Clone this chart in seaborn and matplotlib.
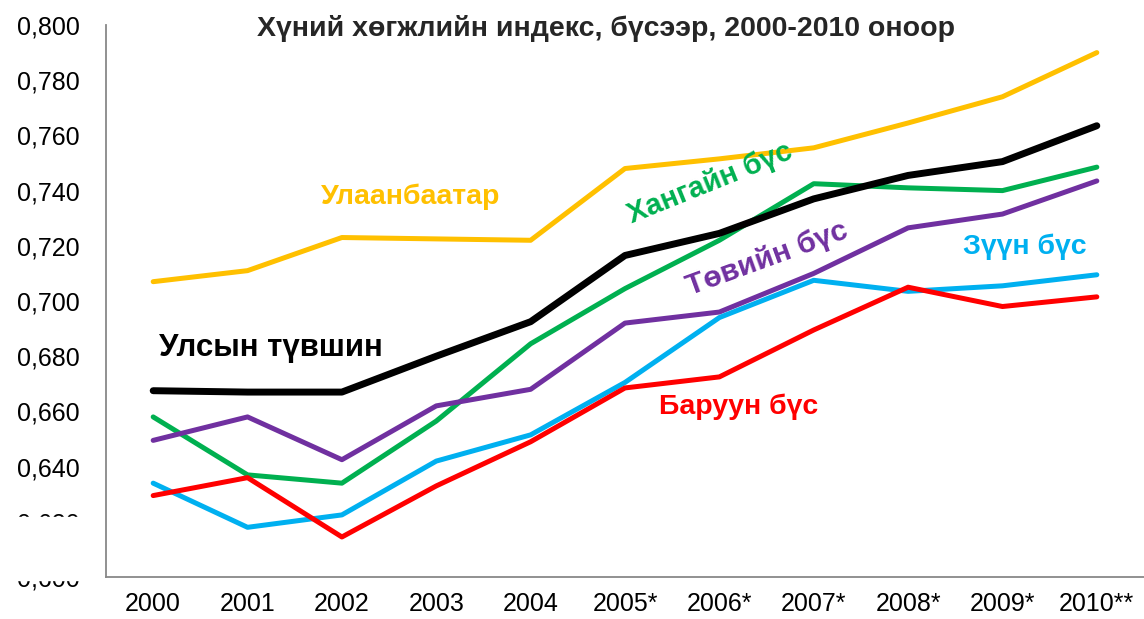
import matplotlib
matplotlib.use("Agg")
import matplotlib.pyplot as plt
import seaborn as sns
import numpy as np
import pandas as pd

years = ["2000", "2001", "2002", "2003", "2004", "2005*", "2006*", "2007*", "2008*", "2009*", "2010**"]
ulaanbaatar = [0.707, 0.711, 0.723, 0.7225, 0.722, 0.748, 0.7515, 0.7555, 0.7645, 0.774, 0.790]
national = [0.6675, 0.667, 0.667, 0.680, 0.6925, 0.7165, 0.7245, 0.737, 0.7455, 0.7505, 0.7635]
khangai = [0.658, 0.637, 0.634, 0.6565, 0.6845, 0.7045, 0.722, 0.7425, 0.741, 0.740, 0.7485]
tuv = [0.6495, 0.658, 0.6425, 0.662, 0.668, 0.692, 0.696, 0.710, 0.7265, 0.7315, 0.7435]
zuun = [0.634, 0.618, 0.6225, 0.642, 0.6515, 0.6705, 0.694, 0.7075, 0.7035, 0.7055, 0.7095]
baruun = [0.6295, 0.636, 0.6145, 0.633, 0.649, 0.6685, 0.6725, 0.6895, 0.705, 0.698, 0.7015]

series = {
    "Улаанбаатар": ulaanbaatar,
    "Хангайн бүс": khangai,
    "Төвийн бүс": tuv,
    "Зүүн бүс": zuun,
    "Баруун бүс": baruun,
    "Улсын түвшин": national,
}
colors = {
    "Улаанбаатар": "#FFC000",
    "Хангайн бүс": "#00B050",
    "Төвийн бүс": "#7030A0",
    "Зүүн бүс": "#00B0F0",
    "Баруун бүс": "#FF0000",
    "Улсын түвшин": "#000000",
}

df = pd.DataFrame([
    {"x": i, "year": y, "region": name, "value": v}
    for name, vals in series.items()
    for i, (y, v) in enumerate(zip(years, vals))
])

sns.set_style("white")
plt.rcParams["font.family"] = ["Liberation Sans", "DejaVu Sans"]

fig = plt.figure(figsize=(11.44, 6.19), dpi=100)
ax = fig.add_axes([106 / 1144, 1 - 577 / 619, 1 - 106 / 1144, (577 - 25) / 619])

sns.lineplot(data=df[df.region != "Улсын түвшин"], x="x", y="value", hue="region",
             palette=colors, linewidth=3.6, ax=ax, legend=False, sort=False)
sns.lineplot(data=df[df.region == "Улсын түвшин"], x="x", y="value", color="black",
             linewidth=5, ax=ax, legend=False, sort=False)

ax.set_xlim(-0.5, len(years) - 0.5)
ax.set_ylim(0.600, 0.800)
ax.set_xlabel("")
ax.set_ylabel("")

ax.set_xticks(range(len(years)))
ax.set_xticklabels(years, fontsize=18, color="black")
ax.set_xticks(np.arange(-0.5, len(years)), minor=True)
ax.tick_params(axis="x", which="major", length=0, pad=11)
ax.tick_params(axis="x", which="minor", length=6, color="#888888", width=1.2)

yt = np.arange(0.600, 0.8001, 0.020)
ax.set_yticks(yt)
ax.set_yticklabels([f"{t:.3f}".replace(".", ",") for t in yt], fontsize=18, color="black")
ax.tick_params(axis="y", length=7, color="#888888", width=1.2, pad=12)

for side in ["top", "right"]:
    ax.spines[side].set_visible(False)
for side in ["left", "bottom"]:
    ax.spines[side].set_color("#888888")
    ax.spines[side].set_linewidth(1.3)

# white patch hiding the lower tick labels, as in the source image
fig.patches.append(plt.Rectangle((0, 1 - 580 / 619), 94 / 1144, 63 / 619,
                                 transform=fig.transFigure, color="white", zorder=10))

fig.text(606 / 1144, 1 - 28 / 619, "Хүний хөгжлийн индекс, бүсээр, 2000-2010 оноор",
         ha="center", va="center", fontsize=20.5, fontweight="bold")

def label(x, y, s, c, size, rot=0):
    fig.text(x / 1144, 1 - y / 619, s, color=c, fontsize=size, fontweight="bold",
             ha="center", va="center", rotation=rot, rotation_mode="anchor")

label(411, 197, "Улаанбаатар", "#FFC000", 20.5)
label(271, 348, "Улсын түвшин", "#000000", 22.5)
label(710, 183, "Хангайн бүс", "#00B050", 21, 22)
label(767, 259, "Төвийн бүс", "#7030A0", 21.5, 20)
label(1025, 247, "Зүүн бүс", "#00B0F0", 20.5)
label(739, 407, "Баруун бүс", "#FF0000", 20.5)

fig.savefig("out.png", dpi=100)
